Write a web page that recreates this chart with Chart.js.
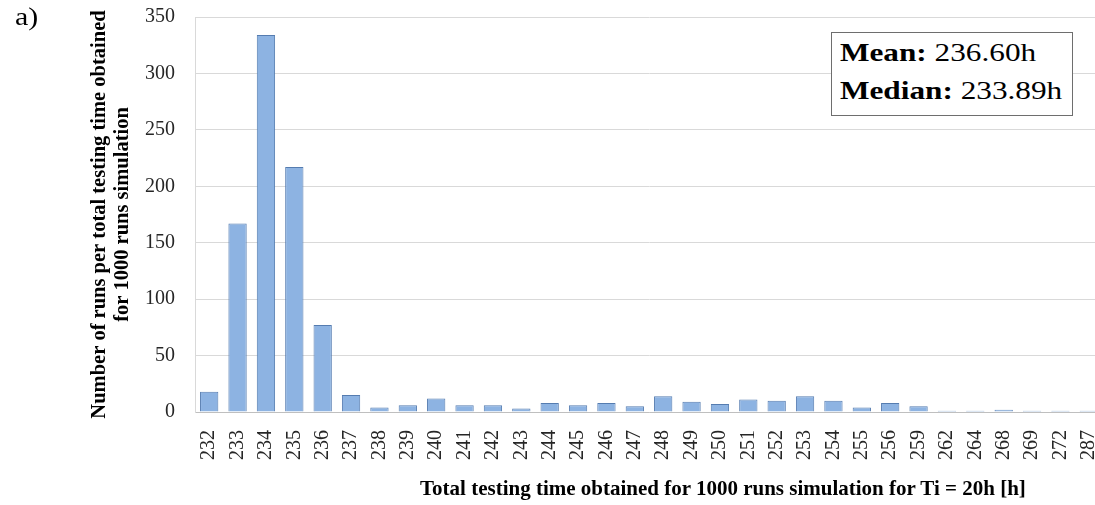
<!DOCTYPE html>
<html>
<head>
<meta charset="utf-8">
<script src="https://cdn.jsdelivr.net/npm/chart.js@4.4.1/dist/chart.umd.min.js"></script>
<style>
  html, body { margin: 0; padding: 0; background: #ffffff; overflow: hidden; }
  #wrap { position: relative; width: 1103px; height: 505px; }
  #panel {
    position: absolute; left: 15px; top: 2px; font: 26px "Liberation Serif", serif; color: #000;
    transform: scaleX(1.15); transform-origin: 0 0;
  }
  #xtitle {
    position: absolute; left: 420px; top: 476px; white-space: nowrap;
    font: bold 21px "Liberation Serif", serif; color: #000;
  }
  #stats {
    position: absolute; left: 831px; top: 32px; width: 242px; height: 84px;
    border: 1.5px solid #6e6e6e; background: #fff; box-sizing: border-box;
  }
  #stats div {
    position: absolute; left: 8px; white-space: nowrap;
    font: 25px "Liberation Serif", serif; color: #000;
    transform: scaleX(1.25); transform-origin: 0 0;
  }
  #stats b { font-weight: bold; }
</style>
</head>
<body>
<div id="wrap">
  <canvas id="chart" width="1103" height="505"></canvas>
  <div id="panel">a)</div>
  <div id="xtitle"></div>
  <div id="stats"><div id="l1" style="top:6px"></div><div id="l2" style="top:44px"></div></div>
</div>
<script>
// Total testing time bins [h] and the number of runs falling in each bin
const timeBins = ['232','233','234','235','236','237','238','239','240','241','242','243',
                  '244','245','246','247','248','249','250','251','252','253','254','255',
                  '256','259','262','264','268','269','272','287'];
const runCounts = [18, 167, 334, 217, 77, 15, 4, 6, 12, 6, 6, 3,
                   8, 6, 8, 5, 14, 9, 7, 11, 10, 14, 10, 4,
                   8, 5, 1, 1, 2, 1, 1, 1];
const yTicks = [0, 50, 100, 150, 200, 250, 300, 350];
const xAxisTitle = 'Total testing time obtained for 1000 runs simulation for Ti = 20h [h]';
const yAxisTitle = ['Number of runs per total testing time obtained', 'for 1000 runs simulation'];
const meanTime = '236.60h';
const medianTime = '233.89h';

document.getElementById('xtitle').textContent = xAxisTitle;
document.getElementById('l1').innerHTML = '<b>Mean:</b> ' + meanTime;
document.getElementById('l2').innerHTML = '<b>Median:</b> ' + medianTime;

const serif = '"Liberation Serif", "Times New Roman", serif';

new Chart(document.getElementById('chart'), {
  type: 'bar',
  data: {
    labels: timeBins,
    datasets: [{
      data: runCounts,
      backgroundColor: '#8db3e2',
      borderColor: '#557cb0',
      borderWidth: 1,
      categoryPercentage: 1,
      barPercentage: 0.645
    }]
  },
  options: {
    responsive: false,
    animation: false,
    layout: { padding: { left: 0, right: 0, top: 17, bottom: 0 } },
    plugins: { legend: { display: false }, tooltip: { enabled: false } },
    scales: {
      x: {
        grid: { display: false, drawTicks: false },
        border: { display: true, color: '#bfbfbf', width: 1 },
        ticks: {
          autoSkip: false, minRotation: 90, maxRotation: 90, padding: 18,
          color: '#262626', font: { family: serif, size: 20 }
        },
        afterFit: (s) => { s.height = 93; s.paddingLeft = 0; s.paddingRight = 0; }
      },
      y: {
        min: 0, max: 350,
        afterBuildTicks: (s) => { s.ticks = yTicks.map(v => ({ value: v })); },
        grid: { color: '#d9d9d9', lineWidth: 1, drawTicks: false },
        border: { display: true, color: '#d9d9d9', width: 1 },
        ticks: { padding: 20, color: '#262626', font: { family: serif, size: 20 } },
        title: {
          display: true,
          text: yAxisTitle,
          color: '#000', font: { family: serif, size: 20.5, weight: 'bold', lineHeight: 1.08 },
          padding: { top: 89, bottom: 0 }
        },
        afterFit: (s) => { s.width = 195; s.paddingTop = 0; s.paddingBottom = 0; }
      }
    }
  }
});
</script>
</body>
</html>
